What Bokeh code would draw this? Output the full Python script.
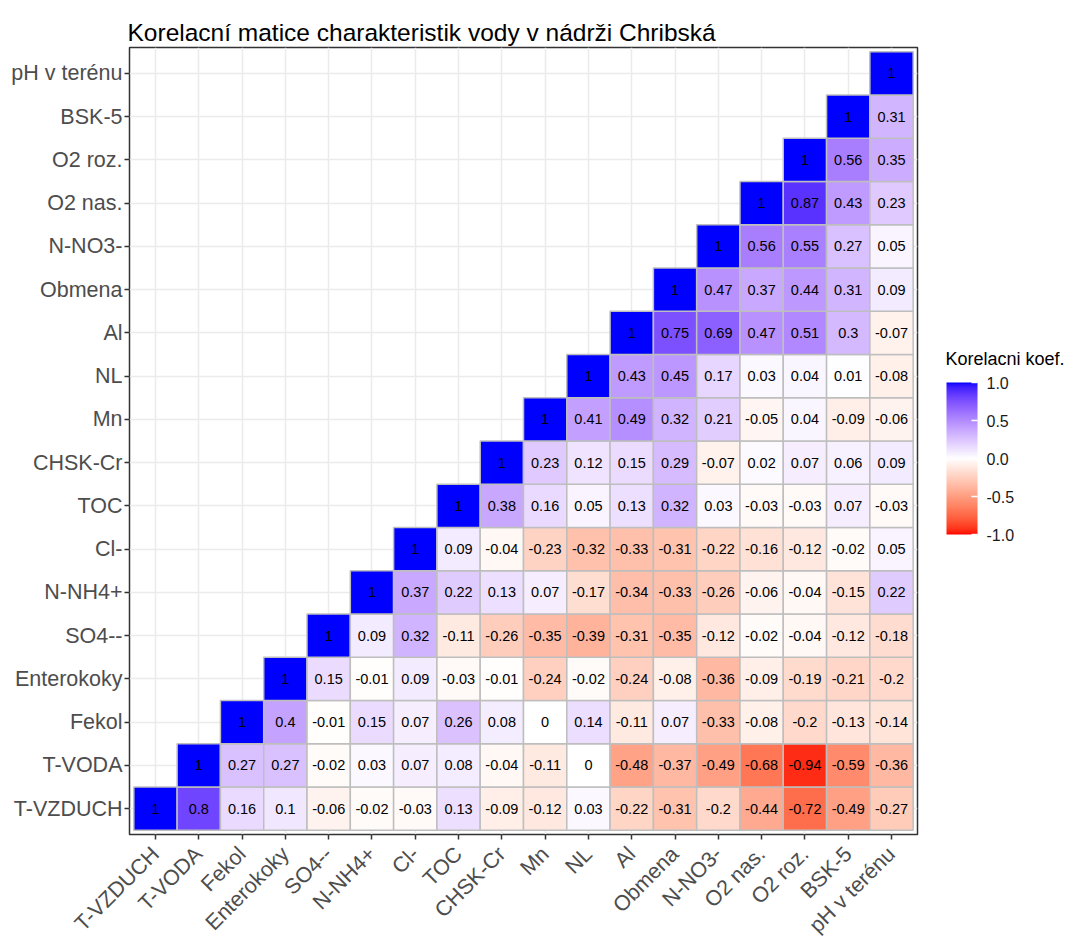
import numpy as np
from bokeh.plotting import figure
from bokeh.layouts import row
from bokeh.models import (ColumnDataSource, LinearColorMapper, ColorBar, FixedTicker,
                          FactorRange, PrintfTickFormatter, Label, Range1d)
from bokeh.core.properties import value
from bokeh.embed import file_html
from bokeh.resources import INLINE

# Variables in axis order (x left->right, y bottom->top)
variables = ["T-VZDUCH", "T-VODA", "Fekol", "Enterokoky", "SO4--", "N-NH4+", "Cl-", "TOC",
             "CHSK-Cr", "Mn", "NL", "Al", "Obmena", "N-NO3-", "O2 nas.", "O2 roz.",
             "BSK-5", "pH v terénu"]

# Upper triangle of the correlation matrix: row i holds corr(variable i, variable j) for j >= i
corr_t_vzduch = [1, 0.8, 0.16, 0.1, -0.06, -0.02, -0.03, 0.13, -0.09, -0.12, 0.03, -0.22, -0.31, -0.2, -0.44, -0.72, -0.49, -0.27]
corr_t_voda = [1, 0.27, 0.27, -0.02, 0.03, 0.07, 0.08, -0.04, -0.11, 0, -0.48, -0.37, -0.49, -0.68, -0.94, -0.59, -0.36]
corr_fekol = [1, 0.4, -0.01, 0.15, 0.07, 0.26, 0.08, 0, 0.14, -0.11, 0.07, -0.33, -0.08, -0.2, -0.13, -0.14]
corr_enterokoky = [1, 0.15, -0.01, 0.09, -0.03, -0.01, -0.24, -0.02, -0.24, -0.08, -0.36, -0.09, -0.19, -0.21, -0.2]
corr_so4 = [1, 0.09, 0.32, -0.11, -0.26, -0.35, -0.39, -0.31, -0.35, -0.12, -0.02, -0.04, -0.12, -0.18]
corr_nh4 = [1, 0.37, 0.22, 0.13, 0.07, -0.17, -0.34, -0.33, -0.26, -0.06, -0.04, -0.15, 0.22]
corr_cl = [1, 0.09, -0.04, -0.23, -0.32, -0.33, -0.31, -0.22, -0.16, -0.12, -0.02, 0.05]
corr_toc = [1, 0.38, 0.16, 0.05, 0.13, 0.32, 0.03, -0.03, -0.03, 0.07, -0.03]
corr_chsk = [1, 0.23, 0.12, 0.15, 0.29, -0.07, 0.02, 0.07, 0.06, 0.09]
corr_mn = [1, 0.41, 0.49, 0.32, 0.21, -0.05, 0.04, -0.09, -0.06]
corr_nl = [1, 0.43, 0.45, 0.17, 0.03, 0.04, 0.01, -0.08]
corr_al = [1, 0.75, 0.69, 0.47, 0.51, 0.3, -0.07]
corr_obmena = [1, 0.47, 0.37, 0.44, 0.31, 0.09]
corr_no3 = [1, 0.56, 0.55, 0.27, 0.05]
corr_o2_nas = [1, 0.87, 0.43, 0.23]
corr_o2_roz = [1, 0.56, 0.35]
corr_bsk5 = [1, 0.31]
corr_ph = [1]

rows = [corr_t_vzduch, corr_t_voda, corr_fekol, corr_enterokoky, corr_so4, corr_nh4, corr_cl,
        corr_toc, corr_chsk, corr_mn, corr_nl, corr_al, corr_obmena, corr_no3, corr_o2_nas,
        corr_o2_roz, corr_bsk5, corr_ph]

legend_ticks = [-1, -0.5, 0, 0.5, 1]

# Long-format table of tiles
xs, ys, vals, labels = [], [], [], []
for i, row_vals in enumerate(rows):
    for k, v in enumerate(row_vals):
        xs.append(variables[i + k])
        ys.append(variables[i])
        vals.append(v)
        labels.append(f"{v:g}")
source = ColumnDataSource(dict(x=xs, y=ys, v=vals, label=labels))


# Diverging red-white-blue palette interpolated in CIELAB
def _srgb_to_lab(rgb):
    c = np.asarray(rgb, dtype=float)
    lin = np.where(c <= 0.04045, c / 12.92, ((c + 0.055) / 1.055) ** 2.4)
    m = np.array([[0.4124564, 0.3575761, 0.1804375],
                  [0.2126729, 0.7151522, 0.0721750],
                  [0.0193339, 0.1191920, 0.9503041]])
    xyz = m @ lin / np.array([0.95047, 1.0, 1.08883])
    f = np.where(xyz > 0.008856, np.cbrt(xyz), 7.787 * xyz + 16 / 116)
    return np.array([116 * f[1] - 16, 500 * (f[0] - f[1]), 200 * (f[1] - f[2])])


def _lab_to_hex(lab):
    L, a, b = lab
    fy = (L + 16) / 116
    fx = fy + a / 500
    fz = fy - b / 200
    f = np.array([fx, fy, fz])
    xyz = np.where(f ** 3 > 0.008856, f ** 3, (f - 16 / 116) / 7.787) * np.array([0.95047, 1.0, 1.08883])
    minv = np.array([[3.2404542, -1.5371385, -0.4985314],
                     [-0.9692660, 1.8760108, 0.0415560],
                     [0.0556434, -0.2040259, 1.0572252]])
    lin = np.clip(minv @ xyz, 0, 1)
    c = np.where(lin <= 0.0031308, 12.92 * lin, 1.055 * lin ** (1 / 2.4) - 0.055)
    c = np.clip(np.round(c * 255), 0, 255).astype(int)
    return "#%02x%02x%02x" % tuple(c)


lab_red = _srgb_to_lab([1, 0, 0])
lab_white = _srgb_to_lab([1, 1, 1])
lab_blue = _srgb_to_lab([0, 0, 1])
palette = []
for t in np.linspace(-1, 1, 255):
    if t < 0:
        palette.append(_lab_to_hex(lab_white + (-t) * (lab_red - lab_white)))
    else:
        palette.append(_lab_to_hex(lab_white + t * (lab_blue - lab_white)))

mapper = LinearColorMapper(palette=palette, low=-1, high=1)

FONT = "Liberation Sans"

# ---- heatmap panel ----
p = figure(
    x_range=FactorRange(factors=variables, range_padding=0.1, range_padding_units="absolute"),
    y_range=FactorRange(factors=variables, range_padding=0.1, range_padding_units="absolute"),
    frame_width=788, frame_height=787,
    min_border_left=129, min_border_top=47, min_border_right=10, min_border_bottom=103,
    output_backend="svg", toolbar_location=None,
    title="Korelacní matice charakteristik vody v nádrži Chribská",
)
p.background_fill_color = "white"
p.border_fill_color = "white"
p.outline_line_color = "#333333"
p.outline_line_width = 1.5

p.title.text_font = FONT
p.title.text_font_size = "24.5px"
p.title.text_font_style = "normal"
p.title.text_color = "black"
p.title.align = "left"
p.title.standoff = 4
p.title.offset = -2

p.grid.grid_line_color = "#EBEBEB"
p.grid.grid_line_width = 1.5

for ax in (p.xaxis, p.yaxis):
    ax.axis_line_color = None
    ax.major_tick_line_color = "#333333"
    ax.major_tick_line_width = 1.5
    ax.major_tick_out = 5
    ax.major_tick_in = 0
    ax.minor_tick_line_color = None
    ax.major_label_text_font = FONT
    ax.major_label_text_font_size = "21.5px"
    ax.major_label_text_color = "#4D4D4D"
    ax.major_label_standoff = 2

p.xaxis.major_label_orientation = np.pi / 4
p.xaxis.major_label_standoff = 11

p.rect(x="x", y="y", width=1, height=1, source=source,
       fill_color={"field": "v", "transform": mapper},
       line_color="#BEBEBE", line_width=1.5)
p.text(x="x", y="y", text="label", source=source,
       text_align="center", text_baseline="middle",
       text_font=value(FONT), text_font_size="14.5px", text_color="black")

# ---- colour bar legend (its frame lines up with the heatmap frame) ----
leg = figure(width=151, height=937, min_border=0, title=None,
             x_range=Range1d(0, 1), y_range=Range1d(0, 1),
             x_axis_location=None, y_axis_location=None,
             output_backend="svg", toolbar_location=None)
leg.grid.visible = False
leg.outline_line_color = None
leg.background_fill_color = "white"
leg.border_fill_color = "white"

cb = ColorBar(
    color_mapper=mapper,
    ticker=FixedTicker(ticks=legend_ticks),
    formatter=PrintfTickFormatter(format="%.1f"),
    width=31, height=152,
    major_label_text_font=FONT, major_label_text_font_size="16px",
    major_label_text_color="#1A1A1A", label_standoff=9,
    major_tick_line_color="white", major_tick_line_width=1.5,
    major_tick_in=6, major_tick_out=0,
    bar_line_color=None, border_line_color=None, background_fill_color=None,
    padding=0, location=(19, 288),
)
leg.add_layout(cb, "center")

leg.add_layout(Label(x=18, y=464, x_units="screen", y_units="screen",
                     text="Korelacni koef.", text_font=FONT, text_font_size="18px",
                     text_color="black", text_baseline="alphabetic", text_align="left"))

open("out.html", "w").write(file_html(row(p, leg), INLINE))
